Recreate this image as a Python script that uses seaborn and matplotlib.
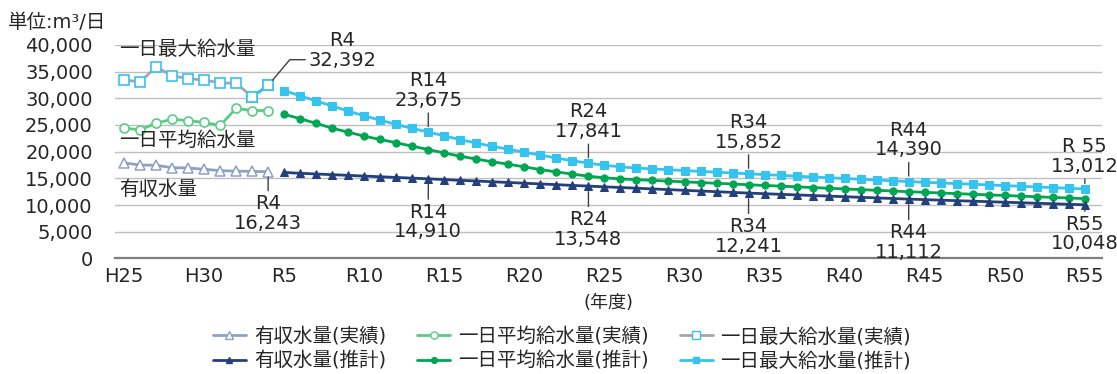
import matplotlib
matplotlib.use("Agg")
import matplotlib.pyplot as plt
from matplotlib.lines import Line2D
import numpy as np
import pandas as pd
import seaborn as sns

# ---- data -------------------------------------------------------------
# fiscal years (western calendar): H25 = 2013, R1 = 2019
actual_years = [2013, 2014, 2015, 2016, 2017, 2018, 2019, 2020, 2021, 2022]
forecast_years = list(range(2023, 2074))

revenue_actual = [17900, 17500, 17450, 17000, 16950, 16700, 16450, 16350, 16300, 16243]
average_actual = [24400, 24100, 25300, 26100, 25800, 25500, 24900, 28100, 27700, 27700]
maximum_actual = [33500, 33000, 35900, 34200, 33700, 33400, 32900, 32800, 30300, 32392]

revenue_forecast = [
    16100, 15950, 15820, 15690, 15560, 15430, 15300, 15170, 15040, 14910,
    14770, 14630, 14500, 14360, 14230, 14090, 13960, 13820, 13680, 13548,
    13415, 13285, 13155, 13020, 12890, 12760, 12630, 12500, 12370, 12241,
    12125, 12010, 11900, 11785, 11670, 11560, 11450, 11335, 11225, 11112,
    11015, 10915, 10820, 10725, 10625, 10530, 10435, 10335, 10240, 10145,
    10048,
]
average_forecast = [
    27000, 26170, 25290, 24400, 23650, 22900, 22280, 21660, 21020, 20400,
    19750, 19150, 18600, 18100, 17650, 17150, 16650, 16200, 15800, 15400,
    15100, 14900, 14750, 14620, 14480, 14350, 14210, 14080, 13940, 13800,
    13670, 13540, 13410, 13280, 13150, 13020, 12890, 12760, 12630, 12500,
    12380, 12260, 12140, 12020, 11900, 11790, 11670, 11550, 11430, 11320,
    11200,
]
maximum_forecast = [
    31450, 30450, 29500, 28550, 27600, 26700, 25900, 25100, 24350, 23675,
    22950, 22250, 21600, 21000, 20450, 19900, 19350, 18800, 18300, 17841,
    17450, 17150, 16930, 16770, 16620, 16460, 16310, 16160, 16000, 15852,
    15705, 15560, 15410, 15265, 15120, 14975, 14830, 14680, 14535, 14390,
    14265, 14140, 14015, 13890, 13765, 13640, 13515, 13390, 13265, 13140,
    13012,
]

tick_years = [2013, 2018, 2023, 2028, 2033, 2038, 2043, 2048, 2053, 2058, 2063, 2068, 2073]
tick_labels = ["H25", "H30", "R5", "R10", "R15", "R20", "R25", "R30",
               "R35", "R40", "R45", "R50", "R55"]

# labelled forecast years: (fiscal year, label)
callout_years = [(2032, "R14"), (2042, "R24"), (2052, "R34"), (2062, "R44")]

# ---- styling ----------------------------------------------------------
sns.set_theme(style="white")
plt.rcParams["font.family"] = ["DejaVu Sans", "Noto Sans CJK JP"]
FS = 14

NAVY = "#24407A"
GREEN = "#00A651"
CYAN = "#35C4F0"
NAVY_LIGHT = "#8FA0C8"
GREEN_LIGHT = "#5CCB85"
GREY = "#A6A6A6"
TEXT = "#262626"

fig = plt.figure(figsize=(11.17, 3.74), dpi=100)
ax = fig.add_axes([0.103, 0.309, 0.884, 0.571])

act = pd.DataFrame({"year": actual_years, "rev": revenue_actual,
                    "avg": average_actual, "max": maximum_actual})
fc = pd.DataFrame({"year": forecast_years, "rev": revenue_forecast,
                   "avg": average_forecast, "max": maximum_forecast})

# actual series: pale lines with hollow markers
sns.lineplot(data=act, x="year", y="max", ax=ax, color=GREY, lw=2,
             marker="s", ms=6.5, mfc="white", mec=CYAN, mew=1.2,
             label="一日最大給水量(実績)", zorder=3)
# last actual segment is drawn in the forecast colour
sns.lineplot(data=act.iloc[-2:], x="year", y="max", ax=ax, color=CYAN, lw=2,
             marker="s", ms=6.5, mfc="white", mec=CYAN, mew=1.2, zorder=3)
sns.lineplot(data=act, x="year", y="avg", ax=ax, color=GREEN_LIGHT, lw=2,
             marker="o", ms=6.5, mfc="white", mec=GREEN_LIGHT, mew=1.2,
             label="一日平均給水量(実績)", zorder=3)
sns.lineplot(data=act, x="year", y="rev", ax=ax, color=NAVY_LIGHT, lw=2,
             marker="^", ms=6.5, mfc="white", mec=NAVY_LIGHT, mew=1.1,
             label="有収水量(実績)", zorder=3)

# forecast series: solid lines with filled markers
sns.lineplot(data=fc, x="year", y="max", ax=ax, color=CYAN, lw=2,
             marker="s", ms=5.2, mec=CYAN, label="一日最大給水量(推計)", zorder=3)
sns.lineplot(data=fc, x="year", y="avg", ax=ax, color=GREEN, lw=2,
             marker="o", ms=5.2, mec=GREEN, label="一日平均給水量(推計)", zorder=3)
sns.lineplot(data=fc, x="year", y="rev", ax=ax, color=NAVY, lw=2,
             marker="^", ms=5.8, mec=NAVY, label="有収水量(推計)", zorder=3)

# ---- axes -------------------------------------------------------------
ax.set_xlim(2012.44, 2074.1)
ax.set_ylim(0, 40000)
ax.set_yticks(range(0, 40001, 5000))
ax.set_yticklabels([f"{v:,}" for v in range(0, 40001, 5000)], fontsize=FS, color=TEXT)
ax.set_xticks(tick_years)
ax.set_xticklabels(tick_labels, fontsize=FS, color=TEXT)
ax.tick_params(axis="y", length=0, pad=16)
ax.tick_params(axis="x", length=0, pad=6)
ax.yaxis.grid(True, color="#BFBFBF", lw=1)
ax.xaxis.grid(False)
for s in ("left", "right", "top"):
    ax.spines[s].set_visible(False)
ax.spines["bottom"].set_color("#7F7F7F")
ax.spines["bottom"].set_linewidth(1.6)
ax.set_xlabel("(年度)", fontsize=FS - 1, color=TEXT, labelpad=6)
ax.set_ylabel("")

fig.text(0.007, 1 - 23 / 374, "単位:m³/日", fontsize=FS, color=TEXT, va="center")

# series names inside the plot
ax.text(2012.7, 39200, "一日最大給水量", fontsize=FS, color=TEXT, va="center")
ax.text(2012.7, 22070, "一日平均給水量", fontsize=FS, color=TEXT, va="center")
ax.text(2012.7, 12880, "有収水量", fontsize=FS, color=TEXT, va="center")

# ---- value callouts ---------------------------------------------------
line_kw = dict(arrowstyle="-", color="#404040", lw=1, shrinkA=0, shrinkB=4)


def callout(year, value, label, dy):
    ax.annotate(f"{label}\n{value:,}", xy=(year, value), xytext=(0, dy),
                textcoords="offset points", ha="center", va="center",
                fontsize=FS, color=TEXT, linespacing=1.05,
                arrowprops=line_kw, zorder=5)


max_map = dict(zip(forecast_years, maximum_forecast))
rev_map = dict(zip(forecast_years, revenue_forecast))
for yr, lab in callout_years:
    callout(yr, max_map[yr], lab, 30)
    callout(yr, rev_map[yr], lab, -31)
callout(2073, max_map[2073], "R 55", 23.5)
callout(2073, rev_map[2073], "R55", -21)
callout(actual_years[-1], revenue_actual[-1], "R4", -30)

# R4 maximum: elbow leader
ax.annotate(f"R4\n{maximum_actual[-1]:,}", xy=(actual_years[-1], maximum_actual[-1]),
            xytext=(29, 25), textcoords="offset points", ha="left", va="center",
            fontsize=FS, color=TEXT, linespacing=1.05, multialignment="center",
            arrowprops=dict(arrowstyle="-", color="#404040", lw=1, shrinkA=0, shrinkB=5,
                            relpos=(0, 0.27),
                            connectionstyle="angle,angleA=0,angleB=50,rad=0"),
            zorder=5)

# ---- legend -----------------------------------------------------------
handles, labels = ax.get_legend_handles_labels()
lookup = dict(zip(labels, handles))
order = ["有収水量(実績)", "有収水量(推計)", "一日平均給水量(実績)",
         "一日平均給水量(推計)", "一日最大給水量(実績)", "一日最大給水量(推計)"]
leg_handles = []
for name in order:
    h = lookup[name]
    leg_handles.append(Line2D([], [], color=h.get_color(), lw=h.get_linewidth(),
                              marker=h.get_marker(), ms=h.get_markersize() * 0.8,
                              mfc=h.get_markerfacecolor(), mec=h.get_markeredgecolor()))
ax.legend().remove()
fig.legend(leg_handles, order, loc="center", bbox_to_anchor=(562 / 1117, 1 - 349 / 374),
           ncol=3, frameon=False, fontsize=FS, handlelength=1.7, handletextpad=0.4,
           columnspacing=1.6, labelspacing=0.3, borderpad=0)

fig.savefig("out.png", dpi=100)
